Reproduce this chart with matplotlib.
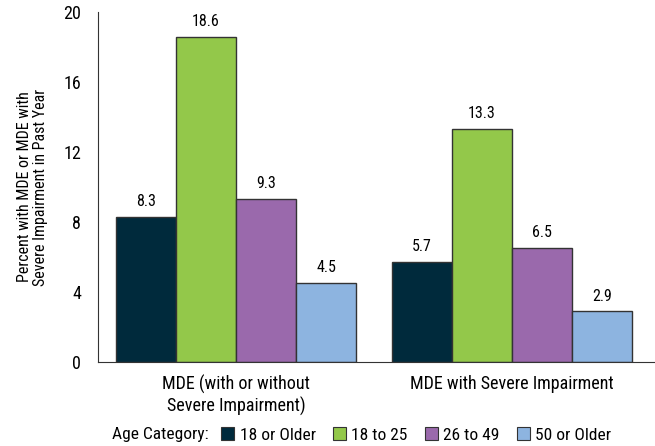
import numpy as np
import matplotlib
matplotlib.use('Agg')
import matplotlib.pyplot as plt
from matplotlib.patches import Patch

plt.rcParams['font.family'] = ['Liberation Sans Narrow', 'Roboto Condensed', 'DejaVu Sans']

groups = ["MDE (with or without\nSevere Impairment)", "MDE with Severe Impairment"]
ages = ["18 or Older", "18 to 25", "26 to 49", "50 or Older"]
values = [
    [8.3, 5.7],    # 18 or Older
    [18.6, 13.3],  # 18 to 25
    [9.3, 6.5],    # 26 to 49
    [4.5, 2.9],    # 50 or Older
]
yticks = [0, 4, 8, 12, 16, 20]

#colors
cols = ["#002a3c", "#93c84a", "#9a69ac", "#8db4e0"]

fig = plt.figure(figsize=(6.55, 4.46), dpi=100)
ax = fig.add_axes([0.1496, 0.188, 0.8504, 0.785])

x = np.arange(len(groups))
w = 0.2174
for i in range(len(ages)):
    pos = x + (i - 1.5) * w
    bars = ax.bar(pos, values[i], width=w, color=cols[i], edgecolor="#333333", linewidth=1)
    for b, v in zip(bars, values[i]):
        ax.text(b.get_x() + b.get_width() / 2, v + 0.45, "%.1f" % v,
                ha="center", va="bottom", fontsize=11.5)

ax.set_xlim(-0.5, 1.518)
ax.set_ylim(0, 20)
ax.set_yticks(yticks)
ax.set_yticklabels([str(t) for t in yticks], fontsize=13)
ax.set_xticks(x)
ax.set_xticklabels(groups, fontsize=13, linespacing=1.2)
ax.tick_params(axis="both", length=0)
ax.tick_params(axis="y", pad=12)
ax.tick_params(axis="x", pad=9)
for s in ["top", "right"]:
    ax.spines[s].set_visible(False)
ax.spines["left"].set_color("#333333")
ax.spines["bottom"].set_color("#333333")

ax.set_ylabel("Percent with MDE or MDE with\nSevere Impairment in Past Year", fontsize=11.5,
              linespacing=1.1, labelpad=11)

fig.text(0.171, 0.025, "Age Category:", fontsize=12.5, ha="left", va="center")
handles = [Patch(facecolor=c, edgecolor="#333333", linewidth=0.8) for c in cols]
fig.legend(handles, ages, loc="center left", bbox_to_anchor=(0.338, 0.025), ncol=4,
           frameon=False, fontsize=12.5, handlelength=0.75, handleheight=0.75,
           handletextpad=0.3, columnspacing=1.0, borderaxespad=0, borderpad=0)

plt.savefig("out.png", dpi=100)
plt.close()
